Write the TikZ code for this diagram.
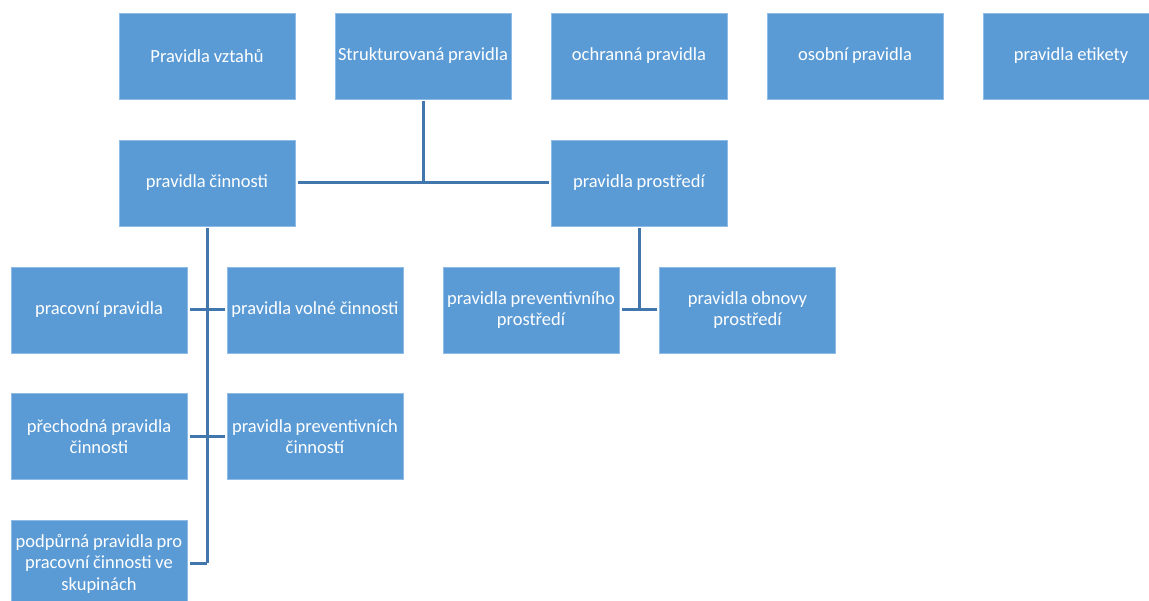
\documentclass[tikz,border=0pt]{standalone}
\usepackage{fontspec}
\setmainfont{Carlito}[WordSpace=0.9]
\usepackage{xcolor}
\usetikzlibrary{positioning}

\definecolor{boxblue}{HTML}{5B9BD5}
\definecolor{boxedge}{HTML}{8FBCE6}
\definecolor{linkblue}{HTML}{4277AD}

\begin{document}
\begin{tikzpicture}[
  x=1pt, y=1pt,
  box/.style={draw=boxedge, line width=0.8pt, fill=boxblue, text=white, minimum width=176pt, minimum height=86pt, align=center, inner sep=1pt, outer sep=0pt, font=\fontsize{18.5}{21.5}\selectfont},
  link/.style={draw=linkblue, line width=3pt, shorten >=2.5pt, shorten <=2.5pt}
]
\useasboundingbox (0,0) rectangle (1149,601);

% top row
\node[box] (vztahy) at (207,545) {Pravidla vztahů};
\node[box, right=40pt of vztahy] (strukt) {Strukturovaná pravidla};
\node[box, right=40pt of strukt] (ochran) {ochranná pravidla};
\node[box, right=40pt of ochran] (osobni) {osobní pravidla};
\node[box, right=40pt of osobni] (etiketa) {pravidla etikety};

% second row
\node[box, below=41pt of vztahy] (cinn) {pravidla činnosti};
\node[box, below=41pt of ochran] (prostr) {pravidla prostředí};

% activity rules
\node[box, below=41pt of cinn, xshift=-108pt] (pracovni) {pracovní pravidla};
\node[box, right=40pt of pracovni] (volne) {pravidla volné činnosti};
\node[box, below=40.5pt of pracovni] (prechod) {přechodná pravidla\\činnosti};
\node[box, right=40pt of prechod] (prevcin) {pravidla preventivních\\činností};
\node[box, below=41pt of prechod] (podpora) {podpůrná pravidla pro\\pracovní činnosti ve\\skupinách};

% environment rules
\node[box, below=41pt of prostr, xshift=-108pt] (prevprost) {pravidla preventivního\\prostředí};
\node[box, right=40.5pt of prevprost] (obnova) {pravidla obnovy\\prostředí};

\draw[link] (cinn.east) -- (prostr.west);
\draw[link, shorten >=0pt] (strukt.south) -- (strukt.south |- cinn.east);

\draw[link, shorten >=0pt] (cinn.south) -- (cinn.south |- podpora.east);
\draw[link, shorten <=0pt] (cinn.south |- podpora.east) -- (podpora.east);
\draw[link] (pracovni.east) -- (volne.west);
\draw[link] (prechod.east) -- (prevcin.west);

\draw[link, shorten >=0pt] (prostr.south) -- (prostr.south |- prevprost.east);
\draw[link] (prevprost.east) -- (obnova.west);

\end{tikzpicture}
\end{document}
